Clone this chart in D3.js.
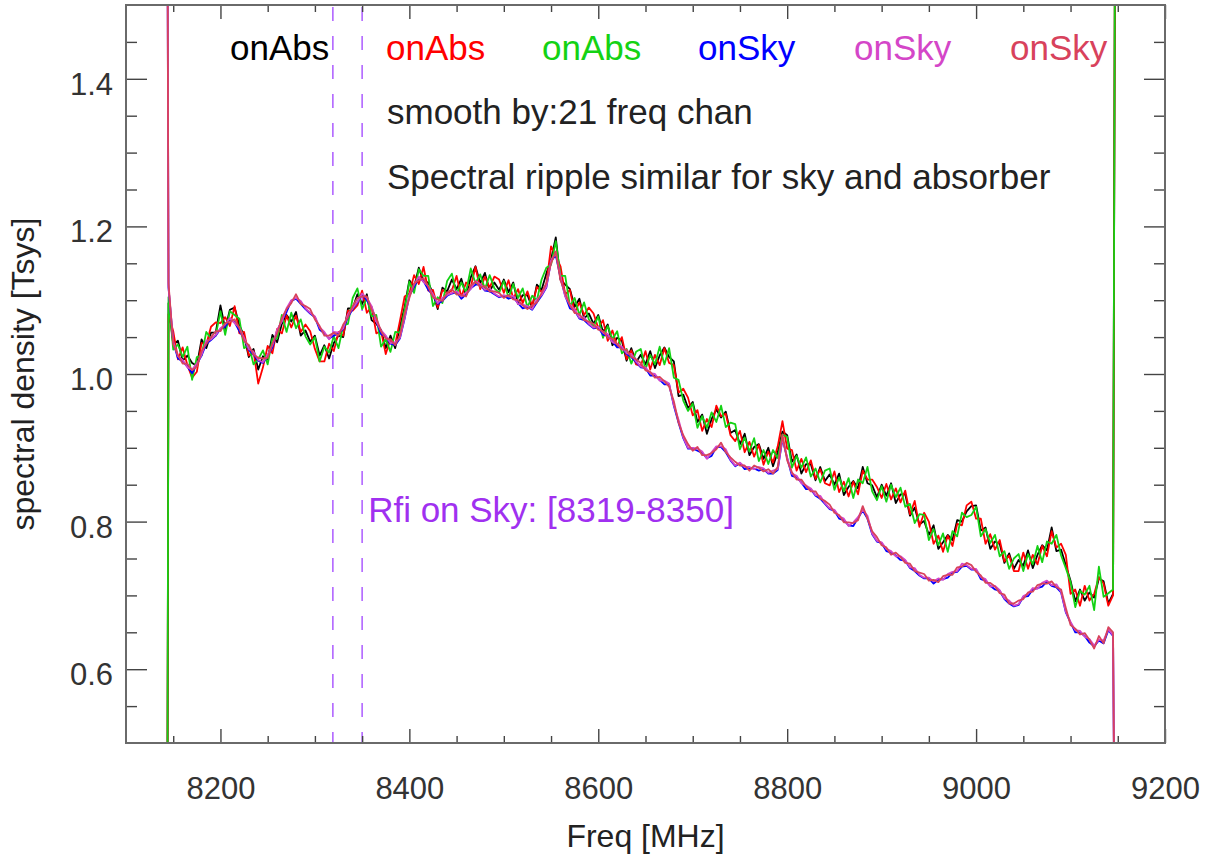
<!DOCTYPE html>
<html><head><meta charset="utf-8">
<script src="https://cdn.jsdelivr.net/npm/d3@7"></script>
<style>
html,body{margin:0;padding:0;background:#fff;}
svg text{font-family:"Liberation Sans",Helvetica,Arial,sans-serif;}
</style></head><body>
<svg id="chart" width="1220" height="861"></svg>
<script>
const freqMHz = [8143.5,
8145,8150,8155,8160,8165,8170,8175,8180,8185,8190,
8195,8200,8205,8210,8215,8220,8225,8230,8235,8240,
8245,8250,8255,8260,8265,8270,8275,8280,8285,8290,
8295,8300,8305,8310,8315,8320,8325,8330,8335,8340,
8345,8350,8355,8360,8365,8370,8375,8380,8385,8390,
8395,8400,8405,8410,8415,8420,8425,8430,8435,8440,
8445,8450,8455,8460,8465,8470,8475,8480,8485,8490,
8495,8500,8505,8510,8515,8520,8525,8530,8535,8540,
8545,8550,8555,8560,8565,8570,8575,8580,8585,8590,
8595,8600,8605,8610,8615,8620,8625,8630,8635,8640,
8645,8650,8655,8660,8665,8670,8675,8680,8685,8690,
8695,8700,8705,8710,8715,8720,8725,8730,8735,8740,
8745,8750,8755,8760,8765,8770,8775,8780,8785,8790,
8795,8800,8805,8810,8815,8820,8825,8830,8835,8840,
8845,8850,8855,8860,8865,8870,8875,8880,8885,8890,
8895,8900,8905,8910,8915,8920,8925,8930,8935,8940,
8945,8950,8955,8960,8965,8970,8975,8980,8985,8990,
8995,9000,9005,9010,9015,9020,9025,9030,9035,9040,
9045,9050,9055,9060,9065,9070,9075,9080,9085,9090,
9095,9100,9105,9110,9115,9120,9125,9130,9135,9140,
9145,9147.5];

const onAbsBlack = [0.2,
1.096,1.040,1.045,1.018,1.025,1.015,1.011,1.047,1.035,1.056,
1.056,1.093,1.061,1.087,1.090,1.066,1.052,1.023,1.034,1.006,
1.024,1.020,1.053,1.043,1.068,1.080,1.071,1.084,1.052,1.059,
1.044,1.052,1.025,1.039,1.021,1.042,1.052,1.050,1.089,1.089,
1.108,1.095,1.108,1.073,1.068,1.060,1.035,1.052,1.035,1.064,
1.091,1.127,1.118,1.144,1.125,1.124,1.109,1.088,1.117,1.112,
1.128,1.115,1.129,1.106,1.131,1.146,1.123,1.137,1.112,1.124,
1.114,1.128,1.111,1.124,1.095,1.107,1.107,1.090,1.121,1.114,
1.136,1.155,1.185,1.128,1.121,1.115,1.091,1.102,1.075,1.082,
1.068,1.080,1.057,1.067,1.039,1.049,1.045,1.018,1.035,1.016,
1.026,1.013,1.031,1.008,1.025,1.036,1.023,1.017,0.970,0.972,
0.954,0.962,0.935,0.945,0.919,0.939,0.952,0.941,0.949,0.920,
0.924,0.905,0.919,0.890,0.901,0.905,0.885,0.900,0.875,0.894,
0.922,0.917,0.881,0.891,0.865,0.878,0.878,0.856,0.874,0.855,
0.864,0.850,0.865,0.836,0.847,0.855,0.845,0.874,0.852,0.849,
0.833,0.850,0.835,0.852,0.825,0.837,0.837,0.808,0.819,0.796,
0.801,0.782,0.795,0.763,0.772,0.782,0.775,0.802,0.800,0.814,
0.821,0.822,0.788,0.792,0.763,0.773,0.770,0.744,0.757,0.736,
0.748,0.740,0.761,0.737,0.755,0.768,0.761,0.792,0.760,0.762,
0.741,0.720,0.692,0.708,0.693,0.704,0.697,0.723,0.719,0.689,
0.702,1.8];

const onAbsRed = [0.2,
1.081,1.058,1.020,1.036,1.012,0.995,1.003,1.042,1.040,1.064,
1.070,1.069,1.077,1.065,1.092,1.055,1.057,1.025,1.031,0.987,
1.009,1.038,1.028,1.061,1.055,1.079,1.063,1.079,1.057,1.067,
1.058,1.034,1.017,1.017,1.041,1.031,1.057,1.052,1.086,1.086,
1.093,1.113,1.083,1.091,1.055,1.059,1.027,1.047,1.040,1.072,
1.105,1.109,1.134,1.122,1.145,1.113,1.114,1.090,1.114,1.109,
1.113,1.133,1.104,1.124,1.118,1.145,1.115,1.132,1.117,1.132,
1.128,1.110,1.127,1.102,1.115,1.096,1.112,1.092,1.118,1.111,
1.121,1.173,1.160,1.146,1.108,1.114,1.083,1.097,1.080,1.090,
1.082,1.062,1.073,1.045,1.059,1.038,1.050,1.020,1.032,1.013,
1.011,1.031,1.006,1.026,1.012,1.035,1.015,1.012,0.975,0.980,
0.968,0.944,0.951,0.923,0.939,0.928,0.957,0.943,0.946,0.917,
0.909,0.923,0.894,0.908,0.888,0.904,0.877,0.895,0.880,0.902,
0.936,0.899,0.897,0.869,0.885,0.867,0.883,0.858,0.871,0.852,
0.849,0.868,0.840,0.854,0.834,0.854,0.837,0.869,0.857,0.857,
0.847,0.832,0.851,0.830,0.845,0.826,0.842,0.810,0.828,0.793,
0.812,0.800,0.770,0.781,0.759,0.781,0.767,0.797,0.795,0.822,
0.827,0.804,0.804,0.770,0.783,0.762,0.775,0.746,0.754,0.733,
0.733,0.758,0.736,0.755,0.742,0.767,0.753,0.787,0.765,0.770,
0.755,0.702,0.708,0.686,0.713,0.693,0.702,0.725,0.716,0.686,
0.700,1.8];

const onAbsGreen = [0.2,
1.104,1.033,1.040,1.023,1.037,0.992,1.023,1.025,1.057,1.048,
1.052,1.085,1.053,1.085,1.080,1.075,1.035,1.039,1.013,1.020,
1.032,1.013,1.048,1.048,1.080,1.057,1.083,1.062,1.074,1.051,
1.040,1.050,1.017,1.037,1.029,1.051,1.035,1.066,1.068,1.103,
1.116,1.088,1.103,1.078,1.080,1.037,1.047,1.030,1.057,1.056,
1.087,1.125,1.110,1.142,1.133,1.133,1.092,1.104,1.096,1.126,
1.136,1.108,1.124,1.111,1.143,1.123,1.135,1.115,1.134,1.116,
1.110,1.126,1.103,1.122,1.103,1.116,1.090,1.106,1.100,1.128,
1.144,1.148,1.180,1.133,1.133,1.092,1.103,1.080,1.097,1.074,
1.064,1.078,1.049,1.065,1.047,1.058,1.028,1.034,1.014,1.030,
1.034,1.006,1.026,1.013,1.037,1.013,1.035,0.995,0.992,0.964,
0.950,0.960,0.927,0.943,0.927,0.948,0.935,0.957,0.928,0.934,
0.932,0.898,0.914,0.895,0.913,0.882,0.897,0.878,0.897,0.886,
0.918,0.915,0.873,0.889,0.873,0.887,0.861,0.872,0.853,0.869,
0.872,0.843,0.860,0.841,0.859,0.832,0.857,0.852,0.874,0.841,
0.829,0.848,0.827,0.850,0.833,0.846,0.820,0.824,0.798,0.810,
0.809,0.775,0.790,0.768,0.784,0.759,0.787,0.780,0.812,0.806,
0.809,0.820,0.780,0.790,0.771,0.782,0.753,0.760,0.736,0.750,
0.756,0.733,0.756,0.742,0.767,0.745,0.773,0.770,0.782,0.754,
0.737,0.718,0.684,0.706,0.701,0.713,0.680,0.739,0.698,0.703,
0.708,1.8];

const onSkyBlue = [1.8,
1.117,1.043,1.021,1.017,1.010,1.001,1.013,1.025,1.041,1.046,
1.052,1.061,1.064,1.074,1.070,1.058,1.048,1.033,1.026,1.018,
1.015,1.025,1.036,1.058,1.072,1.084,1.099,1.102,1.095,1.088,
1.082,1.077,1.060,1.055,1.048,1.052,1.055,1.061,1.077,1.088,
1.097,1.108,1.100,1.090,1.072,1.054,1.051,1.041,1.039,1.048,
1.075,1.106,1.118,1.130,1.126,1.114,1.107,1.095,1.099,1.106,
1.109,1.111,1.102,1.108,1.116,1.121,1.121,1.113,1.112,1.108,
1.104,1.106,1.102,1.104,1.096,1.089,1.091,1.087,1.097,1.106,
1.117,1.153,1.161,1.130,1.106,1.089,1.086,1.075,1.073,1.067,
1.062,1.063,1.053,1.052,1.044,1.036,1.036,1.027,1.023,1.016,
1.009,1.008,0.998,0.998,0.992,0.986,0.986,0.957,0.934,0.913,
0.899,0.899,0.896,0.893,0.886,0.889,0.901,0.901,0.894,0.883,
0.875,0.879,0.871,0.872,0.872,0.869,0.871,0.865,0.865,0.870,
0.912,0.886,0.862,0.860,0.853,0.844,0.844,0.835,0.831,0.824,
0.817,0.815,0.804,0.802,0.795,0.794,0.805,0.815,0.804,0.783,
0.773,0.771,0.760,0.758,0.754,0.748,0.747,0.737,0.733,0.727,
0.723,0.723,0.716,0.721,0.722,0.724,0.731,0.732,0.739,0.740,
0.735,0.735,0.722,0.720,0.713,0.708,0.706,0.695,0.689,0.685,
0.687,0.698,0.699,0.708,0.710,0.712,0.719,0.713,0.711,0.704,
0.677,0.663,0.650,0.650,0.645,0.636,0.631,0.639,0.635,0.653,
0.645,0.2];

const onSkyMagenta = [1.8,
1.118,1.044,1.024,1.019,1.009,1.006,1.014,1.026,1.045,1.047,
1.053,1.062,1.067,1.076,1.069,1.063,1.049,1.034,1.030,1.019,
1.016,1.026,1.039,1.060,1.071,1.089,1.100,1.103,1.099,1.089,
1.083,1.078,1.063,1.057,1.047,1.057,1.056,1.062,1.081,1.089,
1.098,1.109,1.103,1.092,1.071,1.059,1.052,1.042,1.043,1.049,
1.076,1.107,1.121,1.132,1.125,1.119,1.108,1.096,1.103,1.107,
1.110,1.112,1.105,1.110,1.115,1.126,1.122,1.114,1.116,1.109,
1.105,1.107,1.105,1.106,1.095,1.094,1.092,1.088,1.101,1.107,
1.118,1.154,1.164,1.132,1.105,1.094,1.087,1.076,1.077,1.068,
1.063,1.064,1.056,1.054,1.043,1.041,1.037,1.028,1.027,1.017,
1.010,1.009,1.001,1.000,0.991,0.991,0.987,0.958,0.938,0.914,
0.900,0.900,0.899,0.895,0.885,0.894,0.902,0.902,0.898,0.884,
0.876,0.880,0.874,0.874,0.871,0.874,0.872,0.866,0.869,0.871,
0.913,0.887,0.865,0.862,0.852,0.849,0.845,0.836,0.835,0.825,
0.818,0.816,0.807,0.804,0.794,0.799,0.806,0.816,0.808,0.784,
0.774,0.772,0.763,0.760,0.753,0.753,0.748,0.738,0.737,0.728,
0.724,0.724,0.719,0.723,0.721,0.729,0.732,0.733,0.743,0.741,
0.736,0.736,0.725,0.722,0.712,0.713,0.707,0.696,0.693,0.686,
0.688,0.699,0.702,0.710,0.709,0.717,0.720,0.714,0.715,0.705,
0.678,0.664,0.653,0.652,0.644,0.641,0.632,0.640,0.639,0.654,
0.646,0.2];

const onSkyCrimson = [1.8,
1.123,1.040,1.026,1.014,1.014,1.005,1.010,1.031,1.041,1.050,
1.058,1.058,1.069,1.071,1.074,1.062,1.045,1.039,1.026,1.022,
1.021,1.022,1.041,1.055,1.076,1.088,1.096,1.108,1.095,1.092,
1.088,1.074,1.065,1.052,1.052,1.056,1.052,1.067,1.077,1.092,
1.103,1.105,1.105,1.087,1.076,1.058,1.048,1.047,1.039,1.052,
1.081,1.103,1.123,1.127,1.130,1.118,1.104,1.101,1.099,1.110,
1.115,1.108,1.107,1.105,1.120,1.125,1.118,1.119,1.112,1.112,
1.110,1.103,1.107,1.101,1.100,1.093,1.088,1.093,1.097,1.110,
1.123,1.150,1.166,1.127,1.110,1.093,1.083,1.081,1.073,1.071,
1.068,1.060,1.058,1.049,1.048,1.040,1.033,1.033,1.023,1.020,
1.015,1.005,1.003,0.995,0.996,0.990,0.983,0.963,0.934,0.917,
0.905,0.896,0.901,0.890,0.890,0.893,0.898,0.907,0.894,0.887,
0.881,0.876,0.876,0.869,0.876,0.873,0.868,0.871,0.865,0.874,
0.918,0.883,0.867,0.857,0.857,0.848,0.841,0.841,0.831,0.828,
0.823,0.812,0.809,0.799,0.799,0.798,0.802,0.821,0.804,0.787,
0.779,0.768,0.765,0.755,0.758,0.752,0.744,0.743,0.733,0.731,
0.729,0.720,0.721,0.718,0.726,0.728,0.728,0.738,0.739,0.744,
0.741,0.732,0.727,0.717,0.717,0.712,0.703,0.701,0.689,0.689,
0.693,0.695,0.704,0.705,0.714,0.716,0.716,0.719,0.711,0.708,
0.683,0.660,0.655,0.647,0.649,0.640,0.628,0.645,0.635,0.657,
0.650,0.2];

const legendLabels = ["onAbs","onAbs","onAbs","onSky","onSky","onSky"];
const seriesColors = ["#000000","#ff0000","#14d214","#0000ff","#d446c8","#d8425c"];
const xTicks = [8200,8400,8600,8800,9000,9200];
const yTicks = [0.6,0.8,1.0,1.2,1.4];
const xDomain = [8100,9200];
const yDomain = [0.5,1.5];
const rfiRange = [8319,8350];
const notes = ["smooth by:21 freq chan","Spectral ripple similar for sky and absorber"];
const rfiLabel = "Rfi on Sky: [8319-8350]";
const xTitle = "Freq [MHz]";
const yTitle = "spectral density [Tsys]";

const svg = d3.select("#chart");
const L=126, R=1165, T=5, B=743;
const x = d3.scaleLinear().domain(xDomain).range([L,R]);
const y = d3.scaleLinear().domain(yDomain).range([B,T]);

const seriesValues = [onAbsBlack,onAbsRed,onAbsGreen,onSkyBlue,onSkyMagenta,onSkyCrimson];

svg.append("defs").append("clipPath").attr("id","plotclip")
  .append("rect").attr("x",L).attr("y",T).attr("width",R-L).attr("height",B-T);

// RFI dashed lines
svg.append("g").selectAll("line").data(rfiRange).join("line")
  .attr("x1",d=>x(d)).attr("x2",d=>x(d)).attr("y1",T+2).attr("y2",B)
  .attr("stroke","#b266ff").attr("stroke-width",1.6).attr("stroke-dasharray","14,15");

// series
const line = d3.line().x((d,i)=>x(freqMHz[i])).y(d=>y(d));
const gl = svg.append("g").attr("clip-path","url(#plotclip)");
seriesValues.forEach((vals,k)=>{
  gl.append("path").datum(vals).attr("d",line)
    .attr("fill","none").attr("stroke",seriesColors[k]).attr("stroke-width",1.8)
    .attr("stroke-linejoin","round");
});

// axes
const minorX = d3.range(xDomain[0]+50, xDomain[1], 50).filter(v=>!xTicks.includes(v));
const minorY = d3.range(0.55, 1.5, 0.05).map(v=>+v.toFixed(2)).filter(v=>!yTicks.some(t=>Math.abs(t-v)<1e-6));
const axisCol = "#444";
function style(g){ g.select(".domain").remove(); g.selectAll("line").attr("stroke",axisCol).attr("stroke-width",1.4); g.selectAll("text").attr("fill","#333").style("font-size","31px"); }

svg.append("g").attr("transform",`translate(0,${B})`)
  .call(d3.axisBottom(x).tickValues(xTicks).tickSize(-14).tickPadding(34).tickFormat(d3.format("d"))).call(style);
svg.append("g").attr("transform",`translate(0,${B})`)
  .call(d3.axisBottom(x).tickValues(minorX).tickSize(-7).tickFormat("")).call(style);
svg.append("g").attr("transform",`translate(0,${T})`)
  .call(d3.axisTop(x).tickValues(xTicks).tickSize(-14).tickFormat("")).call(style);
svg.append("g").attr("transform",`translate(0,${T})`)
  .call(d3.axisTop(x).tickValues(minorX).tickSize(-7).tickFormat("")).call(style);
const gLeft = svg.append("g").attr("transform",`translate(${L},0)`)
  .call(d3.axisLeft(y).tickValues(yTicks).tickSize(-21).tickPadding(13).tickFormat(d3.format(".1f"))).call(style);
gLeft.selectAll("text").attr("dy","0.5em");
svg.append("g").attr("transform",`translate(${L},0)`)
  .call(d3.axisLeft(y).tickValues(minorY).tickSize(-11).tickFormat("")).call(style);
svg.append("g").attr("transform",`translate(${R},0)`)
  .call(d3.axisRight(y).tickValues(yTicks).tickSize(-21).tickFormat("")).call(style);
svg.append("g").attr("transform",`translate(${R},0)`)
  .call(d3.axisRight(y).tickValues(minorY).tickSize(-11).tickFormat("")).call(style);

// frame
svg.append("rect").attr("x",L).attr("y",T).attr("width",R-L).attr("height",B-T)
  .attr("fill","none").attr("stroke","#6a6a6a").attr("stroke-width",2);

// legend
svg.append("g").selectAll("text").data(legendLabels).join("text")
  .attr("x",(d,i)=>230+i*156).attr("y",60)
  .attr("fill",(d,i)=>seriesColors[i]).style("font-size","35px").text(d=>d);

// notes
svg.append("g").selectAll("text").data(notes).join("text")
  .attr("x",387).attr("y",(d,i)=>124+i*65)
  .attr("fill","#222").style("font-size","35px").text(d=>d);

svg.append("text").attr("x",x(rfiRange[1])+6).attr("y",522)
  .attr("fill","#a030f0").style("font-size","35px").text(rfiLabel);

// axis titles
svg.append("text").attr("x",(L+R)/2).attr("y",847).attr("text-anchor","middle")
  .attr("fill","#222").style("font-size","32px").text(xTitle);
svg.append("text").attr("transform",`translate(34,${(T+B)/2}) rotate(-90)`).attr("text-anchor","middle")
  .attr("fill","#222").style("font-size","32px").text(yTitle);
</script>
</body></html>
